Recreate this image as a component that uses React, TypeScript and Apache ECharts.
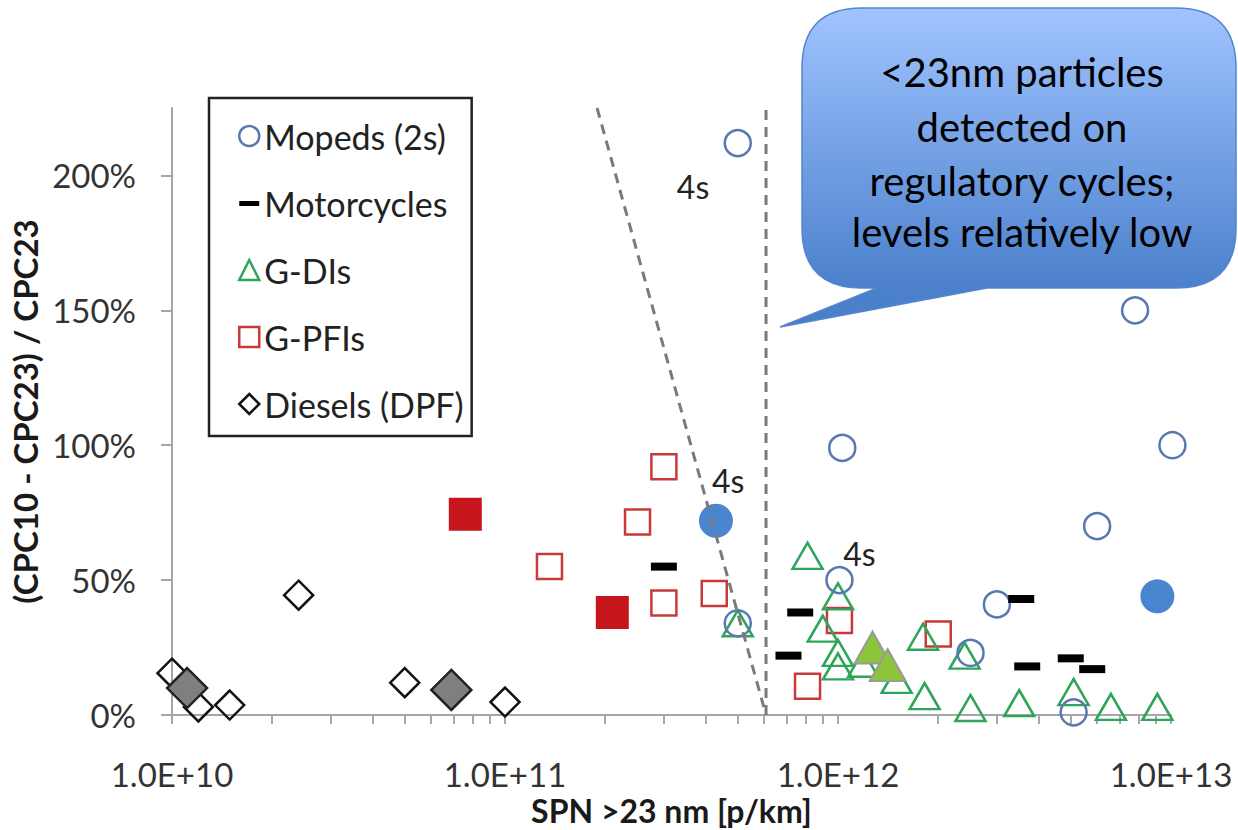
import React, { useEffect, useRef } from "react";
import * as echarts from "echarts";

// ---------- data ----------
const xMajorTicks = [1e10, 1e11, 1e12, 1e13];
const xAllTicks = [
  1e10, 2e10, 3e10, 4e10, 5e10, 6e10, 7e10, 8e10, 9e10,
  1e11, 2e11, 3e11, 4e11, 5e11, 6e11, 7e11, 8e11, 9e11,
  1e12, 2e12, 3e12, 4e12, 5e12, 6e12, 7e12, 8e12, 9e12,
  1e13,
];
const yTicks = [0, 0.5, 1, 1.5, 2];

const mopeds = [
  [5.0e11, 2.12], [7.8e12, 1.5], [1.01e13, 1.0], [1.03e12, 0.99], [6.0e12, 0.7],
  [1.01e12, 0.5], [3.0e12, 0.41], [2.5e12, 0.23], [5.0e11, 0.34], [5.1e12, 0.01],
];
const mopedsFilled = [[4.3e11, 0.72], [9.1e12, 0.44]];
const motorcycles = [
  [3.0e11, 0.55], [7.7e11, 0.38], [7.1e11, 0.22], [3.55e12, 0.43],
  [3.7e12, 0.18], [5.0e12, 0.21], [5.8e12, 0.17],
];
const gdi = [
  [8.1e11, 0.59], [5.0e11, 0.34], [1.0e12, 0.44], [9.0e11, 0.32], [1.0e12, 0.23],
  [1.0e12, 0.18], [1.19e12, 0.19], [1.5e12, 0.13], [1.82e12, 0.07], [1.8e12, 0.29],
  [2.4e12, 0.22], [2.5e12, 0.026], [3.5e12, 0.044], [5.1e12, 0.085], [6.6e12, 0.03],
  [9.1e12, 0.03],
];
const gdiFilled = [[1.27e12, 0.25], [1.41e12, 0.185]];
const gpfi = [
  [3.0e11, 0.92], [2.5e11, 0.715], [1.36e11, 0.55], [3.0e11, 0.415],
  [4.25e11, 0.45], [1.01e12, 0.35], [8.1e11, 0.107], [2.0e12, 0.3],
];
const gpfiFilled = [[7.6e10, 0.744], [2.1e11, 0.38]];
const diesels = [
  [1.0e10, 0.155], [1.2e10, 0.03], [1.49e10, 0.037], [2.4e10, 0.444],
  [5.0e10, 0.12], [1.0e11, 0.048],
];
const dieselsFilled = [[1.11e10, 0.1], [6.9e10, 0.093]];
const verticalDash = [[6.08e11, 0], [6.08e11, 2.25]];
const slantedDash = [[1.89e11, 2.25], [6.08e11, 0]];
const fourStrokeLabels = [[3.67e11, 1.96], [4.68e11, 0.87], [1.16e12, 0.6]];
const calloutLines = [
  "<23nm particles",
  "detected on",
  "regulatory cycles;",
  "levels relatively low",
];

// ---------- callout shape ----------
const CALLOUT_D =
  "M862 8H1176Q1236 8 1236 68V228Q1236 288 1176 288H987L780 327L877 288H862Q802 288 802 228V68Q802 8 862 8Z";
echarts.graphic.registerShape("callout", echarts.graphic.extendPath(CALLOUT_D, {}));

const FONT = "Lato";
const AXIS_GRAY = "#a6a6a6";

export default function App() {
  const ref = useRef<HTMLDivElement>(null);

  useEffect(() => {
    if (!ref.current) return;
    const chart = echarts.init(ref.current, undefined, { renderer: "svg" });

    const open = (color: string) => ({
      color: "transparent",
      borderColor: color,
      borderWidth: 2.5,
      opacity: 1,
    });

    const option: any = {
      animation: false,
      backgroundColor: "#ffffff",
      textStyle: { fontFamily: FONT },
      grid: {
        left: 172,
        right: 67,
        top: 108,
        bottom: 115,
        containLabel: false,
        outerBoundsMode: "none",
      },
      legend: {
        orient: "vertical",
        left: 209,
        top: 98,
        padding: [18, 8, 12, 29],
        itemGap: 27,
        itemWidth: 20,
        itemHeight: 20,
        selectedMode: false,
        borderColor: "#222",
        borderWidth: 2.5,
        backgroundColor: "#fff",
        textStyle: { fontFamily: FONT, fontSize: 34, color: "#222", lineHeight: 40 },
        data: [
          { name: "Mopeds (2s)", icon: "circle", itemStyle: open("#5a78b0") },
          {
            name: "Motorcycles",
            icon: "path://M0,0L0.01,0M0,20L0.01,20M0,8H20V13H0Z",
            itemStyle: { color: "#000", borderWidth: 0, opacity: 1 },
          },
          { name: "G-DIs", icon: "triangle", itemStyle: open("#2ea65a") },
          { name: "G-PFIs", icon: "rect", itemStyle: open("#c83a3a") },
          { name: "Diesels (DPF)", icon: "diamond", itemStyle: open("#111") },
        ],
      },
      xAxis: {
        type: "log",
        logBase: 10,
        min: 1e10,
        max: 1e13,
        name: "SPN >23 nm [p/km]",
        nameLocation: "middle",
        nameGap: 72,
        nameTextStyle: { fontFamily: FONT, fontSize: 32, fontWeight: "bold", color: "#1a1a1a" },
        axisLine: { lineStyle: { color: AXIS_GRAY, width: 2 } },
        axisTick: { customValues: xAllTicks, length: 9, lineStyle: { color: AXIS_GRAY, width: 2 } },
        axisLabel: {
          customValues: xMajorTicks,
          margin: 42,
          fontSize: 33,
          color: "#333",
          formatter: (v: number) => v.toExponential(1).toUpperCase(),
        },
        splitLine: { show: false },
        minorTick: { show: false },
      },
      yAxis: {
        type: "value",
        min: 0,
        max: 2.25,
        interval: 0.5,
        name: "(CPC10 - CPC23) / CPC23",
        nameLocation: "middle",
        nameGap: 122,
        nameTextStyle: { fontFamily: FONT, fontSize: 33, fontWeight: "bold", color: "#1a1a1a" },
        axisLine: { show: true, lineStyle: { color: AXIS_GRAY, width: 2 } },
        axisTick: { show: true, customValues: yTicks, length: 11, lineStyle: { color: AXIS_GRAY, width: 2 } },
        axisLabel: {
          customValues: yTicks,
          margin: 36,
          fontSize: 33,
          color: "#333",
          formatter: (v: number) => Math.round(v * 100) + "%",
        },
        splitLine: { show: false },
      },
      series: [
        {
          type: "line",
          data: verticalDash,
          showSymbol: false,
          silent: true,
          lineStyle: { color: "#7a7a7a", width: 3, type: [10, 7] },
        },
        {
          type: "line",
          data: slantedDash,
          showSymbol: false,
          silent: true,
          lineStyle: { color: "#7a7a7a", width: 3, type: [10, 7] },
        },
        {
          name: "Diesels (DPF)",
          type: "scatter",
          clip: false,
          symbol: "diamond",
          symbolSize: 29,
          itemStyle: open("#111"),
          data: diesels,
        },
        {
          name: "G-PFIs",
          type: "scatter",
          clip: false,
          symbol: "rect",
          symbolSize: 25,
          itemStyle: open("#c83a3a"),
          data: gpfi,
        },
        {
          name: "G-DIs",
          type: "scatter",
          clip: false,
          symbol: "triangle",
          symbolSize: [30, 26],
          itemStyle: open("#2ea65a"),
          data: gdi,
        },
        {
          name: "Mopeds (2s)",
          type: "scatter",
          clip: false,
          symbol: "circle",
          symbolSize: 26,
          itemStyle: open("#5a78b0"),
          data: mopeds,
        },
        {
          name: "Motorcycles",
          type: "scatter",
          clip: false,
          symbol: "rect",
          symbolSize: [26, 8],
          itemStyle: { color: "#000", opacity: 1 },
          data: motorcycles,
        },
        {
          type: "scatter",
          clip: false,
          symbol: "diamond",
          symbolSize: 40,
          itemStyle: { color: "#7f7f7f", borderColor: "#222", borderWidth: 2.5, opacity: 1 },
          data: dieselsFilled,
        },
        {
          type: "scatter",
          clip: false,
          symbol: "rect",
          symbolSize: 33,
          itemStyle: { color: "#c4161c", opacity: 1 },
          data: gpfiFilled,
        },
        {
          type: "scatter",
          clip: false,
          symbol: "triangle",
          symbolSize: [36, 32],
          itemStyle: { color: "#8cc43c", borderColor: "#9a9a9a", borderWidth: 2, opacity: 1 },
          data: gdiFilled,
        },
        {
          type: "scatter",
          clip: false,
          symbol: "circle",
          symbolSize: 34,
          itemStyle: { color: "#4a86cf", opacity: 1 },
          data: mopedsFilled,
        },
        {
          type: "scatter",
          clip: false,
          silent: true,
          symbolSize: 1,
          itemStyle: { color: "transparent", opacity: 1 },
          label: {
            show: true,
            position: "inside",
            formatter: "4s",
            fontFamily: FONT,
            fontSize: 32,
            color: "#222",
          },
          data: fourStrokeLabels,
        },
      ],
      graphic: [
        {
          type: "callout",
          x: 0,
          y: 0,
          z: 100,
          style: {
            fill: new echarts.graphic.LinearGradient(0, 0, 0, 1, [
              { offset: 0, color: "#a0c4ff" },
              { offset: 0.878, color: "#4b80cc" },
              { offset: 1, color: "#4a7ec9" },
            ]),
            stroke: "#5585cc",
            lineWidth: 1.5,
          },
        },
        ...calloutLines.map((t, i) => ({
          type: "text",
          x: 1022,
          y: [72, 127, 181, 232][i],
          z: 101,
          style: {
            text: t,
            fill: "#000",
            font: `40px ${FONT}`,
            align: "center",
            verticalAlign: "middle",
          },
        })),
      ],
    };

    chart.setOption(option);
    return () => chart.dispose();
  }, []);

  return (
    <div
      ref={ref}
      style={{ position: "fixed", left: 0, top: 0, width: 1238, height: 830, background: "#fff" }}
    />
  );
}
